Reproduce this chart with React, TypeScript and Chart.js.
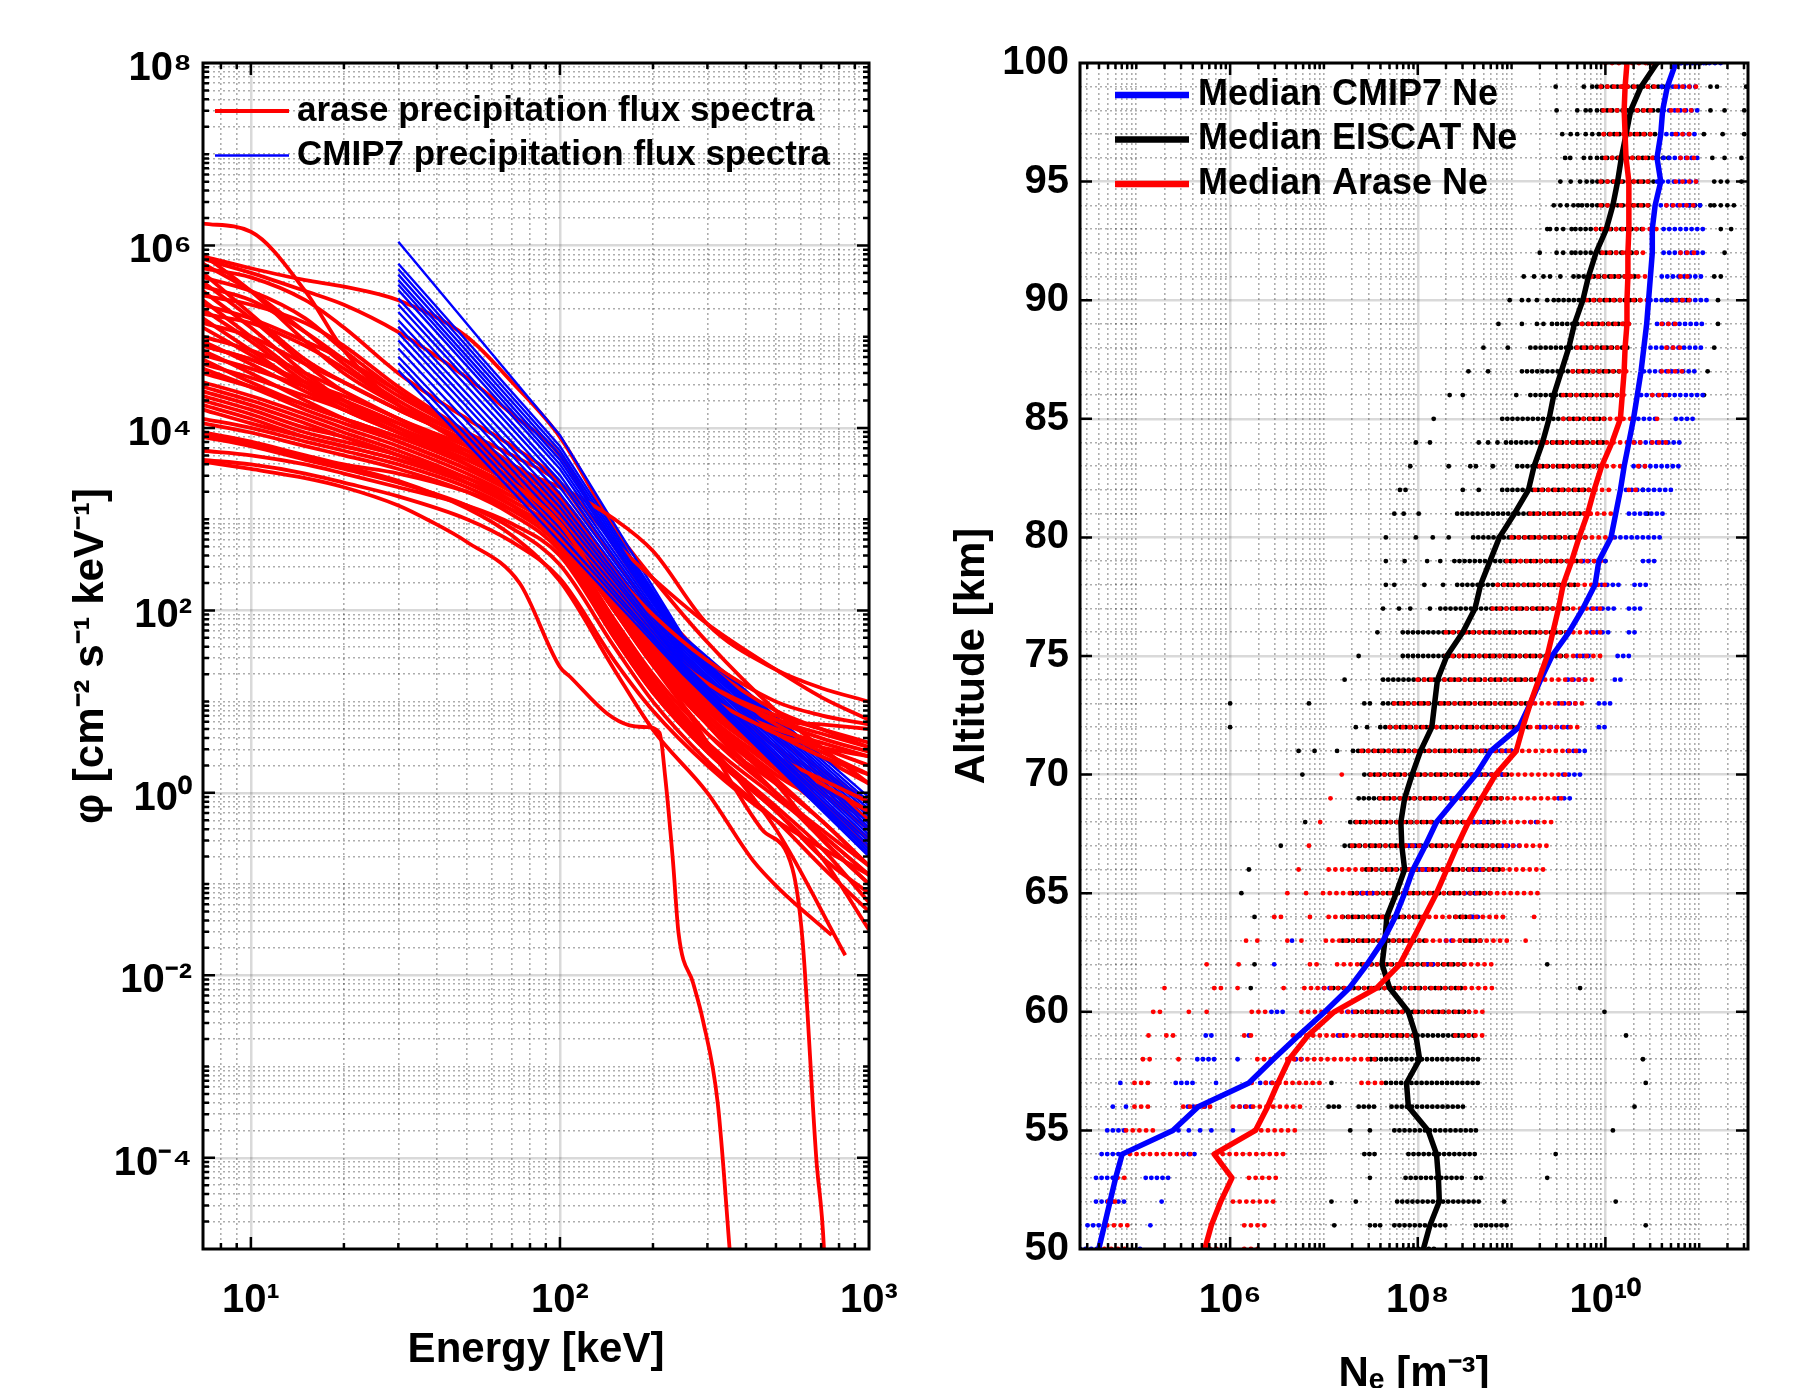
import React, { useEffect, useRef } from 'react';
import { Chart, registerables } from 'chart.js';

Chart.register(...registerables);

const FONT = "'Liberation Sans', Arial, Helvetica, sans-serif";

// ---------------- LEFT PANEL DATA ----------------
// energies (keV) shared by the regular Arase spectra
const energyGrid = [7, 10, 15, 20, 30, 50, 70, 100, 150, 200, 300, 500, 700, 1000];
// log10 flux of the Arase spectra on energyGrid
const araseLogFlux: number[][] = [
  [6.24, 6.15, 5.5, 4.85, 4.25, 3.85, 3.55, 3.2, 2.35, 1.8, 1.15, 0.5, 0.1, -0.2],
  [5.88, 5.75, 5.62, 5.55, 5.4, 5.0, 4.5, 3.9, 2.9, 2.35, 1.65, 0.9, 0.5, 0.1],
  [5.85, 5.7, 5.5, 5.35, 5.05, 4.55, 4.15, 3.7, 2.7, 2.1, 1.45, 0.8, 0.4, 0.1],
  [5.9, 5.5, 4.95, 4.6, 4.25, 3.9, 3.6, 3.25, 2.45, 1.9, 1.25, 0.6, 0.25, -0.1],
  [5.8, 5.5, 5.05, 4.7, 4.3, 3.9, 3.6, 3.25, 2.4, 1.85, 1.15, 0.5, 0.2, -0.1],
  [5.75, 5.65, 5.4, 5.1, 4.6, 4.1, 3.8, 3.4, 2.55, 2.0, 1.35, 0.8, 0.6, 0.45],
  [5.7, 5.25, 4.75, 4.5, 4.2, 3.85, 3.55, 3.2, 2.3, 1.75, 1.2, 0.7, 0.45, 0.2],
  [5.65, 5.5, 5.2, 4.85, 4.4, 3.9, 3.55, 3.2, 2.3, 1.75, 1.1, 0.4, 0.0, -0.4],
  [5.6, 5.2, 4.7, 4.4, 4.1, 3.8, 3.55, 3.25, 2.45, 1.95, 1.4, 0.9, 0.7, 0.5],
  [5.55, 5.4, 5.05, 4.75, 4.35, 3.95, 3.7, 3.4, 2.75, 2.35, 1.85, 1.35, 1.05, 0.8],
  [5.5, 5.1, 4.6, 4.3, 4.0, 3.7, 3.45, 3.15, 2.35, 1.8, 1.1, 0.35, -0.1, -0.6],
  [5.45, 5.35, 5.15, 4.9, 4.45, 3.95, 3.6, 3.2, 2.2, 1.55, 0.85, 0.2, -0.1, -0.5],
  [5.4, 5.0, 4.55, 4.3, 4.05, 3.75, 3.55, 3.35, 3.0, 2.65, 1.85, 1.35, 1.15, 1.0],
  [5.35, 5.2, 4.95, 4.75, 4.4, 3.9, 3.5, 3.05, 2.1, 1.5, 0.85, 0.3, 0.0, -0.3],
  [5.3, 4.95, 4.5, 4.25, 3.95, 3.65, 3.4, 3.1, 2.25, 1.65, 0.95, 0.3, -0.15, -0.5],
  [5.25, 5.15, 4.9, 4.65, 4.25, 3.8, 3.5, 3.15, 2.3, 1.75, 1.2, 0.8, 0.75, 0.7],
  [5.2, 4.85, 4.45, 4.2, 3.95, 3.7, 3.45, 3.1, 2.2, 1.55, 0.75, 0.0, -0.45, -0.9],
  [5.15, 5.0, 4.7, 4.5, 4.2, 3.85, 3.55, 3.2, 2.35, 1.8, 1.25, 0.75, 0.5, 0.3],
  [5.1, 4.8, 4.45, 4.25, 4.0, 3.7, 3.45, 3.15, 2.3, 1.7, 1.0, 0.4, 0.1, -0.3],
  [5.0, 4.85, 4.6, 4.4, 4.1, 3.75, 3.45, 3.05, 2.15, 1.55, 0.9, 0.35, 0.05, -0.2],
  [4.95, 4.7, 4.4, 4.2, 3.95, 3.65, 3.4, 3.05, 2.15, 1.55, 1.05, 0.7, 0.55, 0.4],
  [4.9, 4.75, 4.5, 4.3, 4.0, 3.6, 3.3, 2.95, 2.05, 1.45, 0.8, 0.15, -0.3, -0.8],
  [4.85, 4.6, 4.3, 4.1, 3.85, 3.55, 3.3, 3.0, 2.2, 1.7, 1.2, 0.85, 0.7, 0.55],
  [4.8, 4.65, 4.45, 4.3, 4.05, 3.7, 3.4, 3.0, 2.05, 1.4, 0.65, 0.0, -0.4, -0.8],
  [4.75, 4.5, 4.25, 4.1, 3.9, 3.6, 3.35, 3.0, 2.15, 1.6, 1.05, 0.65, 0.5, 0.4],
  [4.7, 4.55, 4.35, 4.2, 3.95, 3.6, 3.3, 2.9, 2.0, 1.4, 0.75, 0.1, -0.5, -1.0],
  [4.65, 4.45, 4.2, 4.05, 3.85, 3.55, 3.3, 2.95, 2.1, 1.55, 0.95, 0.4, 0.1, -0.2],
  [4.6, 4.45, 4.25, 4.1, 3.9, 3.6, 3.35, 3.05, 2.4, 1.95, 1.45, 1.0, 0.85, 0.75],
  [4.5, 4.35, 4.15, 4.0, 3.8, 3.5, 3.25, 2.9, 2.0, 1.45, 0.9, 0.4, 0.15, -0.1],
  [4.45, 4.3, 4.1, 3.95, 3.75, 3.45, 3.2, 2.85, 2.0, 1.45, 0.85, 0.25, -0.15, -0.6],
  [4.4, 4.25, 4.05, 3.9, 3.7, 3.4, 3.15, 2.8, 1.9, 1.3, 0.65, 0.1, -0.3, -0.8],
  [4.3, 4.15, 3.95, 3.85, 3.7, 3.45, 3.25, 2.95, 2.2, 1.7, 1.2, 0.8, 0.65, 0.5],
  [4.25, 4.1, 3.9, 3.8, 3.65, 3.4, 3.2, 2.85, 2.0, 1.4, 0.75, 0.0, -0.5, -1.0],
  [4.2, 4.05, 3.9, 3.8, 3.65, 3.4, 3.15, 2.75, 1.8, 1.2, 0.55, -0.05, -0.45, -0.9],
  [4.1, 4.0, 3.85, 3.75, 3.6, 3.35, 3.1, 2.7, 1.75, 1.15, 0.5, -0.15, -0.6, -1.2],
  [4.05, 3.95, 3.8, 3.7, 3.55, 3.3, 3.05, 2.65, 1.7, 1.1, 0.45, -0.2, -0.7, -1.5],
  [3.95, 3.85, 3.7, 3.6, 3.5, 3.3, 3.1, 2.8, 2.0, 1.5, 1.05, 0.65, 0.4, 0.2],
  [3.9, 3.8, 3.65, 3.55, 3.4, 3.15, 2.9, 2.5, 1.6, 1.0, 0.35, -0.3, -0.8, -1.3],
  [3.75, 3.7, 3.6, 3.5, 3.35, 3.15, 2.95, 2.6, 1.7, 1.1, 0.45, -0.2, -0.7, -1.1],
  [3.65, 3.6, 3.5, 3.4, 3.25, 3.0, 2.75, 2.35, 1.45, 0.9, 0.3, -0.3, -0.6, -0.9],
];
// Arase spectra with their own energy sampling (cut-offs and early ends)
const araseSpecialEnergy: number[][] = [
  [7, 10, 15, 20, 30, 38, 50, 74, 100, 108, 142, 168, 190, 210, 219, 232, 242, 270, 290, 324, 354, 365],
  [7, 10, 15, 20, 30, 50, 70, 100, 150, 200, 300, 450, 565, 609, 675, 715, 725],
  [7, 10, 15, 20, 30, 50, 70, 100, 150, 200, 300, 421, 515, 757],
  [7, 10, 15, 20, 30, 50, 70, 100, 150, 200, 300, 500, 838],
];
const araseSpecialLogFlux: number[][] = [
  [3.63, 3.55, 3.45, 3.35, 3.15, 2.98, 2.75, 2.3, 1.38, 1.27, 0.87, 0.74, 0.72, 0.66, 0.18, -0.74, -1.54, -2.09, -2.49, -3.4, -5.0, -5.6],
  [4.9, 4.75, 4.5, 4.35, 4.1, 3.7, 3.4, 2.95, 2.05, 1.45, 0.55, -0.4, -0.83, -1.6, -4.0, -5.0, -5.6],
  [3.92, 3.82, 3.68, 3.58, 3.42, 3.12, 2.82, 2.32, 1.35, 0.69, 0.0, -0.74, -1.06, -1.56],
  [4.35, 4.2, 4.0, 3.9, 3.7, 3.4, 3.15, 2.75, 1.85, 1.25, 0.55, -0.4, -1.78],
];
// CMIP7 spectra: log10 flux at the knot energies
const cmipEnergy = [30, 100, 250, 1000];
const cmipLogFlux30 = [6.04, 5.8, 5.74, 5.68, 5.62, 5.57, 5.51, 5.42, 5.35, 5.27, 5.18, 5.11, 5.04, 4.96, 4.87, 4.78, 4.71, 4.63];
const cmipLogFlux100 = [3.92, 3.8, 3.75, 3.7, 3.65, 3.6, 3.55, 3.48, 3.42, 3.35, 3.28, 3.2, 3.13, 3.06, 2.98, 2.9, 2.83, 2.75];
const cmipLogFlux250 = [1.72, 1.7, 1.68, 1.66, 1.64, 1.62, 1.6, 1.57, 1.54, 1.51, 1.48, 1.45, 1.42, 1.4, 1.37, 1.34, 1.32, 1.3];
const cmipLogFlux1000 = [-0.05, -0.1, -0.14, -0.18, -0.22, -0.26, -0.3, -0.34, -0.38, -0.42, -0.46, -0.5, -0.54, -0.58, -0.62, -0.65, -0.68, -0.7];

const energyMajorExps = [1, 2, 3];
const fluxMajorExps = [-4, -2, 0, 2, 4, 6, 8];

// ---------------- RIGHT PANEL DATA ----------------
const altitudes = [
  50, 51, 52, 53, 54, 55, 56, 57, 58, 59, 60, 61, 62, 63, 64, 65, 66, 67, 68, 69, 70, 71, 72, 73, 74, 75,
  76, 77, 78, 79, 80, 81, 82, 83, 84, 85, 86, 87, 88, 89, 90, 91, 92, 93, 94, 95, 96, 97, 98, 99, 100,
];
// log10 of median Ne per altitude
const medianCmipLog = [
  4.6, 4.66, 4.72, 4.78, 4.85, 5.39, 5.66, 6.2, 6.46, 6.73, 7.01, 7.27, 7.46, 7.63, 7.76, 7.86, 7.95, 8.08, 8.2, 8.41,
  8.62, 8.78, 9.08, 9.2, 9.31, 9.43, 9.61, 9.76, 9.89, 9.93, 10.06, 10.11, 10.16, 10.2, 10.25, 10.3, 10.34, 10.38, 10.41, 10.44,
  10.46, 10.48, 10.5, 10.5, 10.53, 10.59, 10.55, 10.59, 10.61, 10.66, 10.75,
];
const medianEiscatLog = [
  8.06, 8.13, 8.23, 8.22, 8.2, 8.11, 7.9, 7.88, 8.02, 7.98, 7.9, 7.7, 7.62, 7.65, 7.67, 7.77, 7.86, 7.83, 7.82, 7.86,
  7.94, 8.03, 8.15, 8.18, 8.21, 8.31, 8.48, 8.61, 8.67, 8.77, 8.87, 9.03, 9.18, 9.24, 9.33, 9.4, 9.45, 9.53, 9.61, 9.67,
  9.76, 9.82, 9.9, 10.01, 10.08, 10.13, 10.17, 10.22, 10.27, 10.38, 10.55,
];
const medianAraseLog = [
  5.73, 5.8, 5.9, 6.02, 5.83, 6.27, 6.4, 6.51, 6.63, 6.83, 7.11, 7.56, 7.81, 7.94, 8.07, 8.2, 8.31, 8.42, 8.54, 8.68,
  8.83, 9.05, 9.12, 9.2, 9.29, 9.38, 9.44, 9.5, 9.55, 9.64, 9.72, 9.81, 9.88, 9.96, 10.07, 10.16, 10.18, 10.2, 10.21, 10.23,
  10.23, 10.24, 10.24, 10.25, 10.25, 10.25, 10.22, 10.21, 10.2, 10.21, 10.23,
];
// individual profile samples per altitude, log10 Ne: "a" = one sample, "a-b" = a dense run of samples
const eiscatSamples = [
  '7.9-8.2',
  '7.11 7.49-7.6 7.75-8.33 8.62-9.0 10.43',
  '7.08 7.34 7.78-8.65 8.92 10.11',
  '7.49 7.87-8.51 8.62-8.71 9.38',
  '7.43-7.55 7.9-8.65 9.47',
  '7.28 7.49 7.75-8.62 10.08',
  '7.05-7.2 7.37-7.55 7.72-8.51 10.31',
  '7.08 7.66-8.65 10.43',
  '7.5-8.65 10.4',
  '7.4-8.6 10.22',
  '7.35-8.6 9.99',
  '6.22 7.1-8.5 9.73',
  '6.26 7.4-8.5 9.38',
  '7.2-8.1 8.45-8.7',
  '6.26 7.2-8.1 8.4-8.6',
  '6.12 7.3-8.8',
  '6.2 7.45-8.9',
  '6.54 7.22-8.9',
  '6.8 7.28-8.9',
  '7.37-8.9',
  '6.77 7.43-9.0',
  '6.73 6.9 7.14 7.31-9.1',
  '6.0 7.34 7.46 7.6-9.2',
  '6.0 6.84 7.43 7.49 7.63-9.25',
  '7.22 7.63-9.3',
  '7.37 7.84-9.6',
  '7.57 7.84-9.6',
  '7.63 7.8 7.92 8.13 8.24-9.65',
  '7.66 7.75 8.07 8.27 8.42-9.7',
  '7.66 7.86 8.1 8.24 8.39-9.75 10.0',
  '7.66 7.98 8.16 8.33 8.59-9.8',
  '7.75 7.85 8.01 8.42-9.85 10.45',
  '7.81 7.87 8.48 8.65 8.9-9.9 10.4',
  '7.92 8.33 8.56 8.62 8.8 9.06-9.95',
  '7.98 8.13 8.65 8.75 8.85 8.94-10.0',
  '8.17 8.9-10.0',
  '8.34 8.48 9.05 9.2-10.2 11.05',
  '8.54 8.75 9.11-10.25 11.09',
  '8.7 8.96 9.2-10.25 11.16',
  '8.86 9.11 9.27 9.34 9.43-10.25 11.2',
  '8.98 9.11 9.18 9.27 9.38 9.45 9.5-10.4 10.65-10.9 11.2',
  '9.13 9.24 9.34 9.41 9.52 9.66-10.35 11.16 11.23',
  '9.3 9.48 9.55 9.64 9.68-10.35 11.27',
  '9.38 9.41 9.48 9.55 9.64 9.68-10.4 11.23 11.34',
  '9.45 9.52 9.59 9.66 9.71 9.75-10.5 10.9-11.05 11.12 11.16 11.23 11.3 11.37',
  '9.52 9.63 9.73 9.8 9.86-10.6 11.16 11.23 11.3 11.45-11.5',
  '9.57-9.63 9.77 9.84 9.91-10.7 11.14 11.27 11.45',
  '9.54 9.63 9.7 9.79 9.86 9.93-10.6 11.05 11.25 11.48',
  '9.48 9.7 9.79 9.84 9.91-10.65 11.12 11.27 11.48',
  '9.47 9.77 9.86 9.91-10.7 11.12 11.19 11.5',
  '10.45-10.6 10.8-11.1',
];
const araseSamples = [
  '4.66-4.89 5.71-5.91 6.15-6.35',
  '4.69-4.92 6.15-6.41',
  '4.7-4.8 6.03-6.47',
  '4.8-4.89 6.2-6.52',
  '4.86-5.62 5.85-6.58',
  '4.89-5.21 6.26-6.7',
  '4.98-5.18 5.5-5.85 6.03-6.76',
  '4.98-5.13 6.23 6.38-6.96 7.4-7.63',
  '5.07-5.21 5.45 6.29-6.47 6.61-7.6',
  '5.13 5.32-5.45 6.15-6.26 6.67-8.0 8.4-8.71',
  '5.18-5.27 5.56 5.75 6.23-6.44 6.76-8.74',
  '5.3 5.83-5.91 6.08 6.57-6.61 6.79-8.83',
  '5.75 6.09-6.15 6.85-6.96 7.14-8.8',
  '6.17 6.29 6.61 6.76 7.02-9.0 9.15',
  '6.47-6.55 6.85-6.9 7.05-8.95 9.24',
  '6.61 6.81 6.99-9.32',
  '6.73 7.05-9.35',
  '6.84 7.3-9.4',
  '6.96 7.35-9.45',
  '7.07 7.6-9.55',
  '7.19 7.5-9.6',
  '7.4-9.7',
  '7.7-9.75',
  '7.75-9.8',
  '8.0-9.9',
  '8.3-9.95',
  '8.3-9.95',
  '8.8-10.0',
  '8.85-10.05',
  '8.95-10.0',
  '9.0-10.1',
  '9.2-10.1',
  '9.25-10.1 10.25-10.35',
  '9.3-10.2 10.35-10.45',
  '9.3-10.4 10.5-10.65',
  '9.55-10.3 10.55-10.6',
  '9.55-10.2 10.5-10.7',
  '9.65-10.25 10.6-10.85',
  '9.7-10.25 10.65-10.85',
  '9.75-10.25 10.6-10.8',
  '9.8-10.45 10.75-10.9',
  '9.85-10.48 10.8-10.9',
  '9.9-10.45 10.8-10.95',
  '9.9-10.55',
  '9.95-10.45 10.65-10.95',
  '9.95-10.5 10.75-11.0',
  '10.0-10.55 10.8-11.0',
  '9.98-10.55 10.75-10.95',
  '9.98-10.5 10.7-10.95',
  '9.95-10.55 10.75-11.0',
  '10.0-10.5',
];
const cmipSamples = [
  '4.4-4.63 5.04',
  '4.48-4.69 5.15',
  '4.57-4.92 5.27',
  '4.57-4.8 5.1-5.39',
  '4.63-4.86 5.5-5.62',
  '4.69-4.89 5.45 5.56 5.68 5.8 6.03',
  '4.75 4.89 5.55-5.75 6.1-6.25',
  '4.83 5.42-5.62 5.85 6.32-6.5',
  '5.65-5.88 6.08 6.7-6.8',
  '5.74-5.83 6.2 7.15-7.25',
  '6.44-6.61 7.25-7.35',
  '7.0-7.1',
  '6.47 8.1-8.2',
  '6.66 8.3-8.4',
  '8.58-8.64',
  '7.4-7.55 8.5-8.65',
  '7.9-8.1 8.55-8.7',
  '7.9-8.1 8.9-9.1',
  '8.6-8.8 9.2-9.3',
  '8.35-8.5 9.5-9.65',
  '8.6-8.9 9.55-9.78',
  '8.7-9.0 9.6-9.8',
  '9.3-9.6 9.93-10.0',
  '9.5-9.7 9.93-10.1',
  '9.6-9.8 10.1-10.2',
  '9.7-9.85 10.13-10.25',
  '9.85-10.05 10.25-10.34',
  '9.85-10.1 10.25-10.4',
  '9.9-10.16 10.31-10.45',
  '9.76-10.05 10.4-10.57',
  '10.1-10.63',
  '10.25-10.66',
  '10.16-10.72',
  '10.3-10.78',
  '10.25-10.83',
  '10.35-10.55 10.75-10.95',
  '10.38-11.05',
  '10.41-10.98',
  '10.48-11.03',
  '10.55-11.03',
  '10.48-11.09',
  '10.6-11.05',
  '10.62-11.09',
  '10.62-11.08',
  '10.59-11.05',
  '10.55-11.0',
  '10.62-11.03',
  '10.59-10.95',
  '10.62-10.98',
  '10.6-11.0',
  '10.75-11.25',
];
const neMajorExps = [6, 8, 10];
const altitudeMajorTicks = [50, 55, 60, 65, 70, 75, 80, 85, 90, 95, 100];

// ---------------- helpers ----------------
const SUP: Record<string, string> = {
  '0': '⁰', '1': '¹', '2': '²', '3': '³', '4': '⁴', '5': '⁵', '6': '⁶', '7': '⁷', '8': '⁸', '9': '⁹', '-': '⁻',
};
const pow10Label = (v: number) => '10' + String(Math.round(Math.log10(v))).split('').map((c) => SUP[c] || c).join('');

function logTicks(minExp: number, maxExp: number, majors: number[], lo: number, hi: number) {
  const out: any[] = [];
  for (let e = minExp; e <= maxExp; e++) {
    for (let k = 1; k <= 9; k++) {
      const v = k * Math.pow(10, e);
      const major = k === 1 && majors.includes(e);
      if (v < lo * 0.999 || v > hi * 1.001) continue;
      if (!major && (v < lo * 1.002 || v > hi * 0.998)) continue;
      out.push({ value: v, kind: major ? 'major' : 'minor' });
    }
  }
  return out;
}

function samplePoints(rows: string[]) {
  const pts: any[] = [];
  rows.forEach((row, i) => {
    const h = altitudes[i];
    row.trim().split(/\s+/).forEach((tok) => {
      if (!tok) return;
      const parts = tok.split('-').map(Number);
      if (parts.length === 2) {
        pts.push({ x: Math.pow(10, parts[0]), y: h });
        pts.push({ x: Math.pow(10, parts[1]), y: h });
        pts.push({ x: Math.pow(10, parts[1]), y: NaN });
      } else {
        pts.push({ x: Math.pow(10, parts[0]), y: h, s: 1 });
        pts.push({ x: Math.pow(10, parts[0]), y: NaN });
      }
    });
  });
  return pts;
}

const gridOpts = {
  drawTicks: false,
  color: (c: any) => (c.tick && c.tick.kind === 'major' ? 'rgba(0,0,0,0.15)' : 'rgba(0,0,0,0.32)'),
  lineWidth: (c: any) => (c.tick && c.tick.kind === 'major' ? 2.5 : 1.6),
};
const borderOpts = {
  display: false,
  dash: (c: any) => (c.tick && c.tick.kind === 'major' ? [] : [2, 3]),
};
const tickLabel = (v: any, i: number, ticks: any[]) => (ticks[i] && ticks[i].kind === 'major' ? pow10Label(Number(v)) : '');

const framePlugin = {
  id: 'frame',
  afterDatasetsDraw(chart: any, _a: any, opts: any) {
    const { ctx, chartArea: a, scales } = chart;
    ctx.save();
    ctx.strokeStyle = '#000';
    ctx.lineCap = 'butt';
    ctx.lineWidth = 2.5;
    const xs = scales.x;
    const ys = scales.y;
    xs.ticks.forEach((t: any) => {
      if (t.kind !== 'major' && !opts.minorX) return;
      const len = t.kind === 'major' ? 12 : 6;
      const p = xs.getPixelForValue(t.value);
      if (p < a.left + 1 || p > a.right - 1) return;
      ctx.beginPath();
      ctx.moveTo(p, a.bottom);
      ctx.lineTo(p, a.bottom - len);
      ctx.moveTo(p, a.top);
      ctx.lineTo(p, a.top + len);
      ctx.stroke();
    });
    ys.ticks.forEach((t: any) => {
      if (t.kind !== 'major' && !opts.minorY) return;
      const len = t.kind === 'major' ? 12 : 6;
      const p = ys.getPixelForValue(t.value);
      if (p < a.top + 1 || p > a.bottom - 1) return;
      ctx.beginPath();
      ctx.moveTo(a.left, p);
      ctx.lineTo(a.left + len, p);
      ctx.moveTo(a.right, p);
      ctx.lineTo(a.right - len, p);
      ctx.stroke();
    });
    ctx.lineWidth = 3;
    ctx.strokeRect(a.left, a.top, a.right - a.left, a.bottom - a.top);
    ctx.restore();
  },
};

const legendPlugin = {
  id: 'lineLegend',
  afterDraw(chart: any, _a: any, opts: any) {
    if (!opts || !opts.items) return;
    const ctx = chart.ctx;
    ctx.save();
    ctx.font = `bold ${opts.fontSize}px ${FONT}`;
    ctx.textBaseline = 'middle';
    ctx.textAlign = 'left';
    opts.items.forEach((it: any, i: number) => {
      const y = opts.y + i * opts.dy;
      ctx.strokeStyle = it.color;
      ctx.lineWidth = it.width;
      ctx.lineCap = 'butt';
      ctx.beginPath();
      ctx.moveTo(opts.x, y);
      ctx.lineTo(opts.x + opts.len, y);
      ctx.stroke();
      ctx.fillStyle = '#000';
      ctx.fillText(it.label, opts.x + opts.len + opts.gap, y);
    });
    ctx.restore();
  },
};

function leftConfig(): any {
  const reds: any[] = [];
  araseLogFlux.forEach((row) => {
    reds.push(row.map((f, j) => ({ x: energyGrid[j], y: Math.pow(10, f) })));
  });
  araseSpecialLogFlux.forEach((row, i) => {
    reds.push(row.map((f, j) => ({ x: araseSpecialEnergy[i][j], y: Math.pow(10, f) })));
  });
  const blues = cmipLogFlux30.map((f, i) =>
    [f, cmipLogFlux100[i], cmipLogFlux250[i], cmipLogFlux1000[i]].map((v, j) => ({ x: cmipEnergy[j], y: Math.pow(10, v) }))
  );
  const datasets: any[] = [];
  let b = 0;
  reds.forEach((d, i) => {
    datasets.push({
      label: 'arase precipitation flux spectra',
      data: d,
      borderColor: '#ff0000',
      borderWidth: 3.8,
      pointRadius: 0,
      cubicInterpolationMode: 'monotone',
      borderJoinStyle: 'round',
    });
    while (b < blues.length && (b + 1) * reds.length <= (i + 1) * blues.length) {
      datasets.push({
        label: 'CMIP7 precipitation flux spectra',
        data: blues[b],
        borderColor: '#0000ff',
        borderWidth: 2.4,
        pointRadius: 0,
        tension: 0,
      });
      b++;
    }
  });
  datasets.forEach((d, i) => (d.order = datasets.length - i));

  return {
    type: 'line',
    data: { datasets },
    options: {
      animation: false,
      responsive: false,
      devicePixelRatio: 1,
      events: [],
      layout: { padding: { top: 63, right: 71, bottom: 0, left: 0 } },
      plugins: {
        legend: { display: false },
        tooltip: { enabled: false },
        frame: { minorX: true, minorY: true },
        lineLegend: {
          x: 215,
          y: 111,
          dy: 44.5,
          len: 74,
          gap: 8,
          fontSize: 35,
          items: [
            { label: 'arase precipitation flux spectra', color: '#ff0000', width: 4 },
            { label: 'CMIP7 precipitation flux spectra', color: '#0000ff', width: 2.4 },
          ],
        },
      },
      scales: {
        x: {
          type: 'logarithmic',
          position: 'bottom',
          min: 7,
          max: 1000,
          afterBuildTicks: (s: any) => {
            s.ticks = logTicks(0, 3, energyMajorExps, 7, 1000);
          },
          afterFit: (s: any) => {
            s.height = 139;
          },
          grid: gridOpts,
          border: borderOpts,
          ticks: {
            autoSkip: false,
            maxRotation: 0,
            minRotation: 0,
            padding: 28,
            color: '#000',
            font: { family: FONT, size: 40, weight: 'bold' },
            callback: tickLabel,
          },
          title: {
            display: true,
            text: 'Energy [keV]',
            color: '#000',
            font: { family: FONT, size: 42, weight: 'bold' },
            padding: { top: 0, bottom: 12 },
          },
        },
        y: {
          type: 'logarithmic',
          position: 'left',
          min: 1e-5,
          max: 1e8,
          afterBuildTicks: (s: any) => {
            s.ticks = logTicks(-5, 8, fluxMajorExps, 1e-5, 1e8);
          },
          afterFit: (s: any) => {
            s.width = 203;
          },
          grid: gridOpts,
          border: borderOpts,
          ticks: {
            autoSkip: false,
            padding: 11,
            labelOffset: 6,
            color: '#000',
            font: { family: FONT, size: 40, weight: 'bold' },
            callback: tickLabel,
          },
          title: {
            display: true,
            text: 'φ [cm⁻² s⁻¹ keV⁻¹]',
            color: '#000',
            font: { family: FONT, size: 42, weight: 'bold' },
            padding: { top: 66, bottom: 0 },
          },
        },
      },
    },
    plugins: [framePlugin, legendPlugin],
  };
}

function rightConfig(): any {
  const lo = Math.pow(10, 4.4);
  const hi = Math.pow(10, 11.52);
  const sampleSet = (rows: string[], color: string, dash: number[], order: number, label: string) => ({
    label,
    data: samplePoints(rows),
    borderColor: color,
    backgroundColor: color,
    borderWidth: 4.8,
    borderCapStyle: 'round',
    borderDash: dash,
    spanGaps: false,
    tension: 0,
    pointRadius: (c: any) => (c.raw && c.raw.s ? 2.4 : 0),
    pointBorderWidth: 0,
    pointBackgroundColor: color,
    order,
  });
  const medianSet = (vals: number[], color: string, order: number, label: string) => ({
    label,
    data: vals.map((v, i) => ({ x: Math.pow(10, v), y: altitudes[i] })),
    borderColor: color,
    borderWidth: 5.5,
    borderJoinStyle: 'round',
    pointRadius: 0,
    tension: 0,
    order,
  });
  const datasets = [
    sampleSet(eiscatSamples, '#000000', [0.1, 5], 6, 'EISCAT Ne'),
    sampleSet(cmipSamples, '#0000ff', [0.1, 5.5], 5, 'CMIP7 Ne'),
    sampleSet(araseSamples, '#ff0000', [0.1, 6.6], 4, 'Arase Ne'),
    medianSet(medianEiscatLog, '#000000', 3, 'Median EISCAT Ne'),
    medianSet(medianCmipLog, '#0000ff', 2, 'Median CMIP7 Ne'),
    medianSet(medianAraseLog, '#ff0000', 1, 'Median Arase Ne'),
  ];
  return {
    type: 'line',
    data: { datasets },
    options: {
      animation: false,
      responsive: false,
      devicePixelRatio: 1,
      events: [],
      layout: { padding: { top: 63, right: 45, bottom: 0, left: 0 } },
      plugins: {
        legend: { display: false },
        tooltip: { enabled: false },
        frame: { minorX: true, minorY: false },
        lineLegend: {
          x: 175,
          y: 95,
          dy: 44.5,
          len: 74,
          gap: 9,
          fontSize: 36,
          items: [
            { label: 'Median CMIP7 Ne', color: '#0000ff', width: 6.5 },
            { label: 'Median EISCAT Ne', color: '#000000', width: 6.5 },
            { label: 'Median Arase Ne', color: '#ff0000', width: 6.5 },
          ],
        },
      },
      scales: {
        x: {
          type: 'logarithmic',
          position: 'bottom',
          min: lo,
          max: hi,
          afterBuildTicks: (s: any) => {
            s.ticks = logTicks(4, 11, neMajorExps, lo, hi);
          },
          afterFit: (s: any) => {
            s.height = 171;
          },
          grid: gridOpts,
          border: borderOpts,
          ticks: {
            autoSkip: false,
            maxRotation: 0,
            minRotation: 0,
            padding: 28,
            color: '#000',
            font: { family: FONT, size: 40, weight: 'bold' },
            callback: tickLabel,
          },
          title: {
            display: true,
            text: 'Nₑ [m⁻³]',
            color: '#000',
            font: { family: FONT, size: 42, weight: 'bold' },
            padding: { top: 0, bottom: 20 },
          },
        },
        y: {
          type: 'linear',
          position: 'left',
          min: 50,
          max: 100,
          afterBuildTicks: (s: any) => {
            s.ticks = altitudes.map((h) => ({ value: h, kind: altitudeMajorTicks.includes(h) ? 'major' : 'minor' }));
          },
          afterFit: (s: any) => {
            s.width = 140;
          },
          grid: gridOpts,
          border: borderOpts,
          ticks: {
            autoSkip: false,
            padding: 11,
            color: '#000',
            font: { family: FONT, size: 40, weight: 'bold' },
            callback: (v: any, i: number, ticks: any[]) => (ticks[i] && ticks[i].kind === 'major' ? String(v) : ''),
          },
          title: {
            display: true,
            text: 'Altitude [km]',
            color: '#000',
            font: { family: FONT, size: 42, weight: 'bold' },
            padding: { top: 7, bottom: 0 },
          },
        },
      },
    },
    plugins: [framePlugin, legendPlugin],
  };
}

export default function App() {
  const leftRef = useRef<HTMLCanvasElement>(null);
  const rightRef = useRef<HTMLCanvasElement>(null);
  useEffect(() => {
    const c1 = new Chart(leftRef.current as HTMLCanvasElement, leftConfig());
    const c2 = new Chart(rightRef.current as HTMLCanvasElement, rightConfig());
    return () => {
      c1.destroy();
      c2.destroy();
    };
  }, []);
  return (
    <div
      style={{
        position: 'fixed',
        left: 0,
        top: 0,
        width: 1793,
        height: 1388,
        overflow: 'hidden',
        background: '#ffffff',
      }}
    >
      <canvas
        ref={leftRef}
        width={940}
        height={1388}
        style={{ position: 'absolute', left: 0, top: 0, width: 940, height: 1388 }}
      />
      <canvas
        ref={rightRef}
        width={853}
        height={1420}
        style={{ position: 'absolute', left: 940, top: 0, width: 853, height: 1420 }}
      />
    </div>
  );
}
